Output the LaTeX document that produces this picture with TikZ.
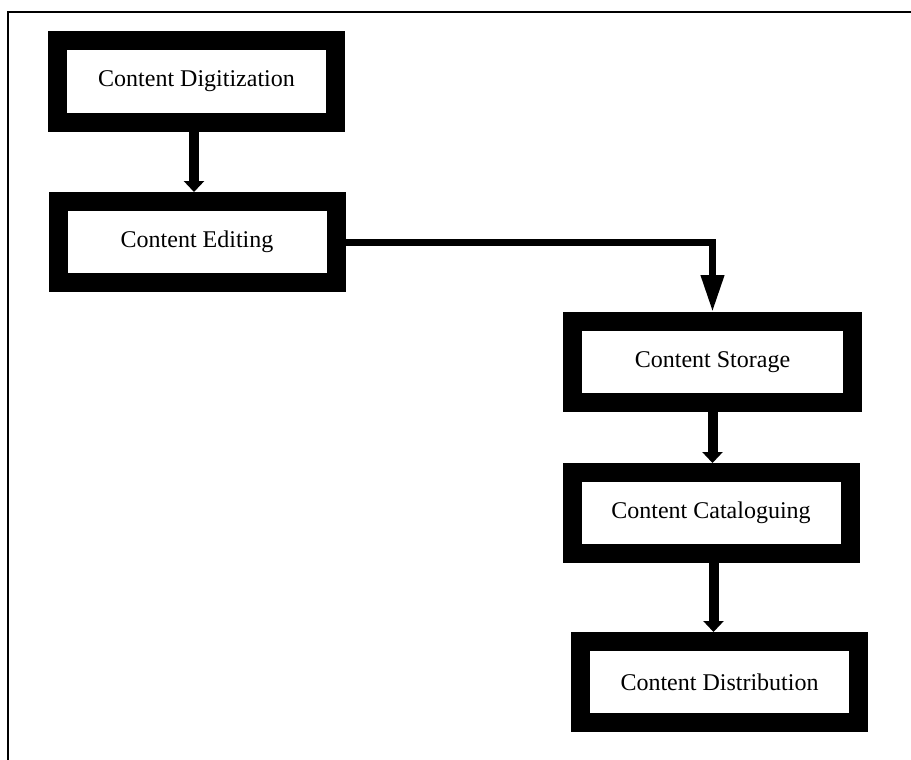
\documentclass[tikz,border=0pt]{standalone}
\usepackage{fontspec}
\setmainfont{Liberation Serif}
\usetikzlibrary{arrows.meta,positioning}

\tikzset{
	stagebox/.style =
	{
		draw			= black,
		fill			= white,
		line width		= 19pt,
		minimum width	= 278pt,
		minimum height	= 81pt,
		inner sep		= 0pt,
		font			= \fontsize{24}{28}\selectfont
	},
	flowarrow/.style =
	{
		line width	= 10pt,
		-{Triangle[length=11pt, width=20pt]}
	},
	longarrow/.style =
	{
		line width	= 7pt,
		-{Triangle[length=37pt, width=22pt]}
	}
}

\begin{document}
\begin{tikzpicture}[x=1pt, y=-1pt]
		%
		\useasboundingbox (0,0) rectangle (911,760);
		\draw[line width=2pt] (8,760) -- (8,12) -- (911,12);
		%
		\node[stagebox] (digit) at (196.5,81.5)	{Content Digitization};
		\node[stagebox] (edit)  at (197,242)		{Content Editing};
		\node[stagebox, minimum width=280pt] (store) at (712.5,362) {Content Storage};
		\node[stagebox] (catal) at (711,513)		{Content Cataloguing};
		\node[stagebox] (distr) at (719.5,682)	{Content Distribution};
		%
		\draw[flowarrow] ([xshift=-2.5pt]digit.south) -- ([xshift=-2.5pt]digit.south |- edit.north);
		\draw[longarrow] (edit.east) -| (store.north);
		\draw[flowarrow] (store.south) -- (store.south |- catal.north);
		\draw[flowarrow] ([xshift=2.5pt]catal.south) -- ([xshift=2.5pt]catal.south |- distr.north);
		%
	\end{tikzpicture}
\end{document}
